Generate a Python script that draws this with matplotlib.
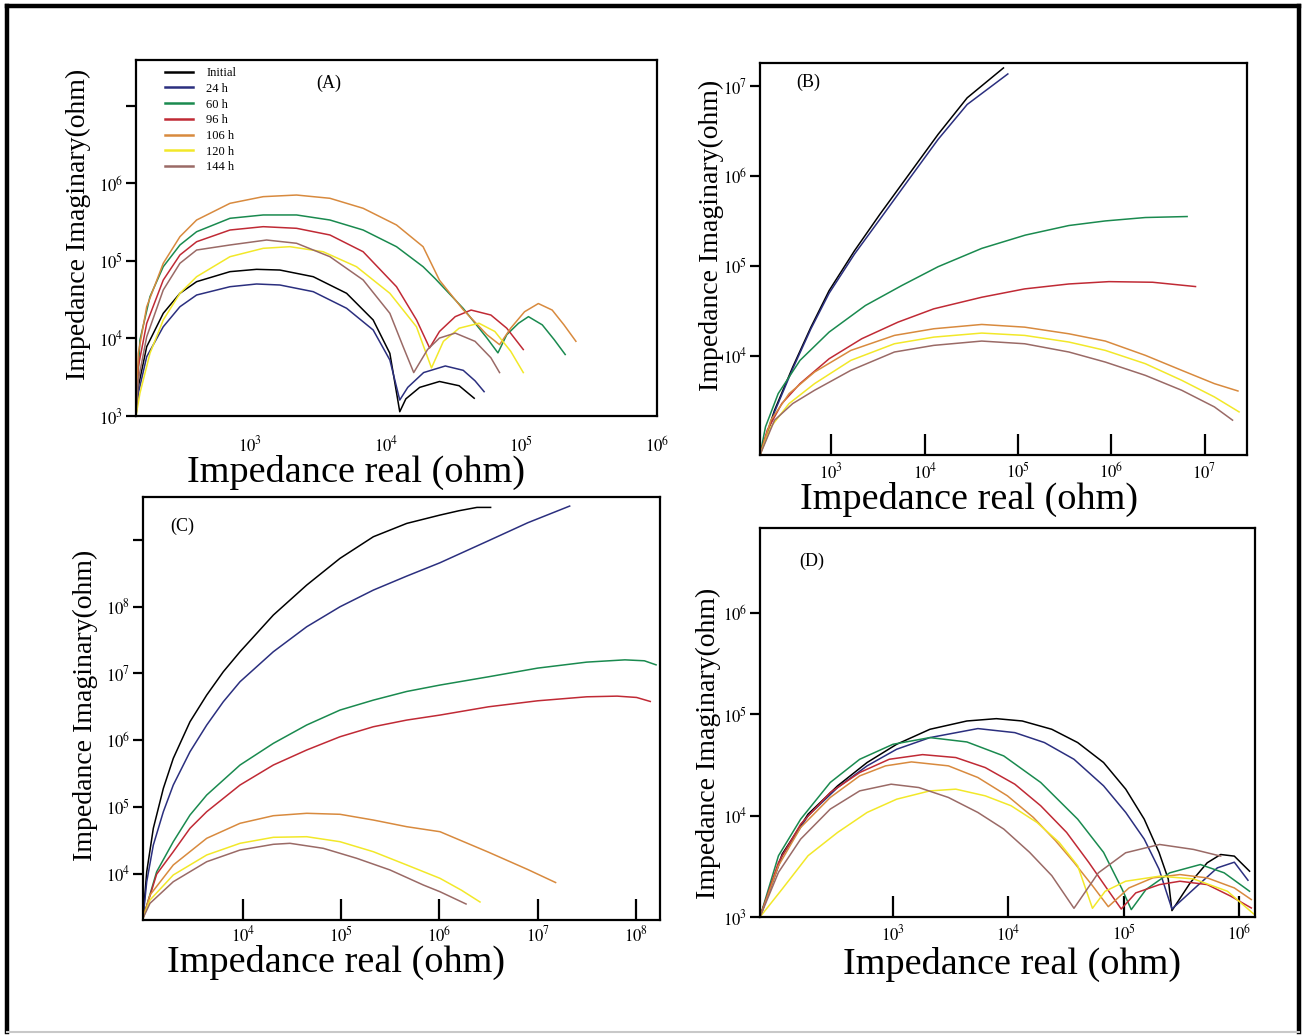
import matplotlib
matplotlib.use("Agg")
import matplotlib.pyplot as plt
from matplotlib.lines import Line2D

plt.rcParams["font.family"] = ["Liberation Serif", "DejaVu Serif"]
plt.rcParams["mathtext.fontset"] = "stix"

W, H = 1306, 1036

LABELS = ["Initial", "24 h", "60 h", "96 h", "106 h", "120 h", "144 h"]
COLORS = ["#000000", "#2b2f7f", "#1a8a4f", "#c02a35", "#d88a3e", "#f2e829", "#9a6a66"]

# all values are log10(ohm), one list per series in LABELS order

# panel A
A_X = [
    [2.158, 2.175, 2.237, 2.359, 2.482, 2.605, 2.851, 3.047, 3.219, 3.465, 3.711, 3.907, 4.03, 4.103,
     4.148, 4.25, 4.396, 4.541, 4.652],
    [2.158, 2.175, 2.237, 2.359, 2.482, 2.605, 2.851, 3.047, 3.219, 3.465, 3.711, 3.907, 4.03, 4.103,
     4.162, 4.279, 4.439, 4.571, 4.658, 4.725],
    [2.158, 2.187, 2.261, 2.359, 2.482, 2.605, 2.851, 3.096, 3.342, 3.588, 3.833, 4.079, 4.275, 4.366,
     4.571, 4.746, 4.827, 4.892, 4.979, 5.052, 5.154, 5.242, 5.323],
    [2.158, 2.175, 2.237, 2.359, 2.482, 2.605, 2.851, 3.096, 3.342, 3.588, 3.833, 4.079, 4.227, 4.323,
     4.396, 4.512, 4.629, 4.775, 4.892, 5.014],
    [2.158, 2.175, 2.237, 2.359, 2.482, 2.605, 2.851, 3.096, 3.342, 3.588, 3.833, 4.079, 4.275, 4.396,
     4.571, 4.746, 4.839, 4.921, 5.023, 5.125, 5.227, 5.314, 5.402],
    [2.158, 2.187, 2.261, 2.359, 2.482, 2.605, 2.851, 3.096, 3.293, 3.538, 3.784, 4.03, 4.226, 4.337,
     4.425, 4.541, 4.687, 4.804, 4.921, 5.014],
    [2.158, 2.175, 2.237, 2.359, 2.482, 2.605, 2.851, 3.121, 3.342, 3.588, 3.833, 4.03, 4.128, 4.206,
     4.308, 4.396, 4.512, 4.658, 4.775, 4.839],
]
A_Y = [
    [3.0, 3.378, 3.894, 4.324, 4.582, 4.732, 4.861, 4.891, 4.882, 4.796, 4.582, 4.238, 3.808, 3.055,
     3.221, 3.369, 3.445, 3.39, 3.229],
    [3.0, 3.293, 3.765, 4.151, 4.409, 4.56, 4.667, 4.702, 4.689, 4.603, 4.389, 4.109, 3.722, 3.206,
     3.369, 3.56, 3.645, 3.589, 3.454, 3.314],
    [3.0, 3.98, 4.538, 4.925, 5.205, 5.376, 5.549, 5.592, 5.592, 5.527, 5.398, 5.183, 4.925, 4.768,
     4.387, 4.005, 3.814, 4.048, 4.196, 4.281, 4.175, 3.984, 3.793],
    [3.0, 3.636, 4.195, 4.753, 5.076, 5.247, 5.398, 5.441, 5.42, 5.334, 5.118, 4.667, 4.238, 3.878,
     4.09, 4.281, 4.366, 4.302, 4.132, 3.857],
    [3.0, 3.808, 4.409, 4.969, 5.312, 5.527, 5.742, 5.828, 5.849, 5.807, 5.678, 5.463, 5.183, 4.75,
     4.37, 4.048, 3.92, 4.132, 4.344, 4.45, 4.366, 4.175, 3.963],
    [3.0, 3.293, 3.808, 4.238, 4.582, 4.796, 5.054, 5.162, 5.183, 5.118, 4.925, 4.582, 4.151, 3.62,
     3.963, 4.132, 4.196, 4.09, 3.835, 3.56],
    [3.0, 3.464, 4.022, 4.625, 4.969, 5.14, 5.205, 5.269, 5.227, 5.054, 4.754, 4.324, 3.894, 3.56,
     3.857, 4.005, 4.069, 3.963, 3.751, 3.56],
]

# panel B
B_X = [
    [2.234, 2.39, 2.585, 2.78, 2.975, 3.247, 3.52, 3.831, 4.143, 4.455, 4.844],
    [2.234, 2.39, 2.585, 2.78, 2.975, 3.247, 3.52, 3.831, 4.143, 4.455, 4.891],
    [2.234, 2.293, 2.429, 2.663, 2.975, 3.364, 3.753, 4.143, 4.611, 5.078, 5.546, 5.936, 6.365, 6.813],
    [2.234, 2.312, 2.468, 2.663, 2.975, 3.325, 3.714, 4.097, 4.611, 5.071, 5.546, 5.975, 6.443, 6.903],
    [2.234, 2.351, 2.546, 2.819, 3.208, 3.675, 4.097, 4.611, 5.071, 5.546, 5.936, 6.365, 6.755, 7.105, 7.358],
    [2.234, 2.351, 2.546, 2.819, 3.208, 3.675, 4.097, 4.611, 5.071, 5.546, 5.936, 6.365, 6.755, 7.105, 7.37],
    [2.234, 2.39, 2.585, 2.819, 3.208, 3.675, 4.097, 4.611, 5.071, 5.546, 5.936, 6.365, 6.755, 7.105, 7.3],
]
B_Y = [
    [2.893, 3.392, 3.873, 4.317, 4.724, 5.168, 5.575, 6.019, 6.464, 6.871, 7.204],
    [2.893, 3.373, 3.854, 4.299, 4.695, 5.131, 5.519, 5.964, 6.408, 6.797, 7.137],
    [2.893, 3.207, 3.577, 3.947, 4.262, 4.558, 4.78, 4.99, 5.194, 5.342, 5.449, 5.5, 5.538, 5.549],
    [2.893, 3.17, 3.466, 3.688, 3.965, 4.188, 4.373, 4.521, 4.65, 4.743, 4.798, 4.824, 4.817, 4.769],
    [2.893, 3.281, 3.577, 3.817, 4.058, 4.225, 4.299, 4.347, 4.317, 4.243, 4.162, 4.003, 3.836, 3.688, 3.606],
    [2.893, 3.207, 3.466, 3.688, 3.947, 4.132, 4.206, 4.251, 4.225, 4.151, 4.058, 3.91, 3.725, 3.54, 3.373],
    [2.893, 3.281, 3.466, 3.614, 3.836, 4.04, 4.114, 4.162, 4.132, 4.04, 3.928, 3.78, 3.614, 3.429, 3.281],
]

# panel C
C_X = [
    [2.986, 3.024, 3.091, 3.193, 3.294, 3.464, 3.634, 3.803, 3.973, 4.312, 4.651, 4.99, 5.329, 5.669,
     6.007, 6.2, 6.383, 6.522],
    [2.986, 3.024, 3.091, 3.193, 3.294, 3.464, 3.634, 3.803, 3.973, 4.312, 4.651, 4.99, 5.329, 5.669,
     6.007, 6.5, 6.9, 7.326],
    [2.986, 3.125, 3.294, 3.464, 3.634, 3.973, 4.312, 4.651, 4.99, 5.329, 5.669, 6.007, 6.5, 7.0, 7.5,
     7.888, 8.086, 8.205],
    [2.986, 3.125, 3.294, 3.464, 3.634, 3.973, 4.312, 4.651, 4.99, 5.329, 5.669, 6.007, 6.5, 7.0, 7.5,
     7.809, 8.007, 8.146],
    [2.986, 3.057, 3.294, 3.634, 3.973, 4.312, 4.651, 4.99, 5.329, 5.669, 6.007, 6.5, 6.9, 7.183],
    [2.986, 3.057, 3.294, 3.634, 3.973, 4.312, 4.651, 4.99, 5.329, 5.669, 6.007, 6.225, 6.414],
    [2.986, 3.057, 3.294, 3.634, 3.973, 4.312, 4.481, 4.82, 5.16, 5.499, 5.837, 6.007, 6.272],
]
C_Y = [
    [3.33, 4.027, 4.678, 5.277, 5.727, 6.276, 6.676, 7.026, 7.326, 7.876, 8.325, 8.726, 9.05, 9.25,
     9.375, 9.44, 9.49, 9.49],
    [3.33, 3.877, 4.427, 4.927, 5.327, 5.826, 6.226, 6.576, 6.876, 7.326, 7.7, 8.0, 8.25, 8.46,
     8.66, 8.99, 9.26, 9.51],
    [3.33, 4.027, 4.477, 4.877, 5.177, 5.627, 5.952, 6.227, 6.451, 6.6, 6.73, 6.826, 6.95, 7.08, 7.17,
     7.204, 7.19, 7.129],
    [3.33, 3.99, 4.327, 4.678, 4.927, 5.327, 5.627, 5.852, 6.051, 6.201, 6.301, 6.376, 6.5, 6.59, 6.65,
     6.66, 6.64, 6.58],
    [3.33, 3.678, 4.128, 4.528, 4.753, 4.867, 4.903, 4.888, 4.802, 4.702, 4.627, 4.32, 4.06, 3.865],
    [3.33, 3.603, 3.978, 4.278, 4.453, 4.543, 4.552, 4.477, 4.327, 4.128, 3.928, 3.75, 3.573],
    [3.33, 3.553, 3.877, 4.177, 4.352, 4.438, 4.453, 4.378, 4.228, 4.053, 3.828, 3.727, 3.543],
]

# panel D
D_X = [
    [1.85, 2.042, 2.266, 2.522, 2.777, 3.033, 3.321, 3.641, 3.896, 4.12, 4.376, 4.6, 4.824, 5.016, 5.176,
     5.304, 5.384, 5.416, 5.574, 5.721, 5.838, 5.956, 6.088],
    [1.85, 2.042, 2.266, 2.522, 2.777, 3.033, 3.321, 3.736, 4.056, 4.312, 4.568, 4.824, 5.016, 5.176,
     5.304, 5.416, 5.632, 5.809, 5.956, 6.074],
    [1.85, 2.01, 2.202, 2.458, 2.713, 3.001, 3.321, 3.641, 3.96, 4.28, 4.6, 4.824, 4.984, 5.064,
     5.191, 5.397, 5.662, 5.868, 6.088],
    [1.85, 2.01, 2.202, 2.458, 2.713, 2.969, 3.257, 3.545, 3.8, 4.056, 4.28, 4.504, 4.696, 4.856, 4.977,
     5.103, 5.309, 5.485, 5.721, 5.926, 6.103],
    [1.85, 2.01, 2.202, 2.458, 2.713, 2.937, 3.161, 3.481, 3.736, 3.992, 4.216, 4.408, 4.568, 4.728, 4.865,
     5.044, 5.25, 5.485, 5.721, 5.956, 6.103],
    [1.85, 2.042, 2.266, 2.522, 2.777, 3.033, 3.321, 3.545, 3.8, 4.024, 4.248, 4.44, 4.6, 4.728,
     4.838, 5.015, 5.309, 5.603, 5.897, 6.147],
    [1.85, 2.01, 2.202, 2.458, 2.713, 2.985, 3.225, 3.481, 3.736, 3.96, 4.184, 4.376, 4.568,
     4.779, 5.015, 5.309, 5.603, 5.838],
]
D_Y = [
    [3.0, 3.621, 4.015, 4.295, 4.525, 4.705, 4.853, 4.935, 4.958, 4.935, 4.853, 4.722, 4.525, 4.262, 3.966,
     3.638, 3.375, 3.063, 3.337, 3.535, 3.617, 3.601, 3.452],
    [3.0, 3.605, 3.999, 4.278, 4.492, 4.656, 4.771, 4.86, 4.82, 4.722, 4.557, 4.295, 4.032, 3.769,
     3.473, 3.079, 3.304, 3.485, 3.541, 3.363],
    [3.0, 3.605, 3.966, 4.328, 4.557, 4.705, 4.771, 4.728, 4.59, 4.328, 3.966, 3.638, 3.276, 3.073,
     3.271, 3.436, 3.518, 3.436, 3.254],
    [3.0, 3.539, 3.917, 4.229, 4.426, 4.557, 4.603, 4.574, 4.475, 4.311, 4.098, 3.835, 3.539, 3.276, 3.079,
     3.238, 3.32, 3.353, 3.32, 3.205, 3.089],
    [3.0, 3.506, 3.884, 4.18, 4.393, 4.492, 4.531, 4.492, 4.377, 4.196, 3.983, 3.753, 3.539, 3.309, 3.102,
     3.287, 3.386, 3.419, 3.386, 3.287, 3.172],
    [3.0, 3.276, 3.605, 3.835, 4.032, 4.163, 4.245, 4.262, 4.196, 4.098, 3.933, 3.736, 3.506, 3.086,
     3.254, 3.353, 3.403, 3.376, 3.254, 3.007],
    [3.0, 3.441, 3.769, 4.065, 4.245, 4.311, 4.278, 4.18, 4.032, 3.868, 3.638, 3.408, 3.086,
     3.436, 3.634, 3.716, 3.667, 3.601],
]

fig = plt.figure(figsize=(W / 100, H / 100), dpi=100)


def px_axes(l, t, r, b):
    return fig.add_axes([l / W, 1 - b / H, (r - l) / W, (b - t) / H])


def decade_labels(exps, shown):
    return [r"$10^{%d}$" % e if e in shown else "" for e in exps]


def style(ax, xlim, ylim, xt, xshow, yt, yshow, xin, xpad):
    ax.set_xlim(*xlim)
    ax.set_ylim(*ylim)
    ax.set_xticks(xt)
    ax.set_xticklabels(decade_labels(xt, xshow))
    ax.set_yticks(yt)
    ax.set_yticklabels(decade_labels(yt, yshow))
    for s in ax.spines.values():
        s.set_linewidth(1.6)
    if xin:
        ax.tick_params(axis="x", direction="in", length=15, width=1.6, pad=xpad, labelsize=12)
    else:
        ax.tick_params(axis="x", length=0, pad=xpad, labelsize=12)
    ax.tick_params(axis="y", direction="out", length=7, width=1.6, pad=2, labelsize=12)


def draw(ax, xs, ys):
    for x, y, c, lab in zip(xs, ys, COLORS, LABELS):
        ax.plot(x, y, color=c, lw=1.1, label=lab, solid_joinstyle="round")


def fig_text(x, y, s, **kw):
    fig.text(x / W, 1 - y / H, s, ha="center", va="center", **kw)


# (A)
axA = px_axes(136, 60, 657, 416)
draw(axA, A_X, A_Y)
style(axA, (2.158, 6.0), (3.0, 7.59), [3, 4, 5, 6], [3, 4, 5, 6], [3, 4, 5, 6, 7], [3, 4, 5, 6],
      False, 14)
axA.text(0.37, 0.935, "(A)", transform=axA.transAxes, ha="center", va="center", fontsize=13)
leg = axA.legend(loc="upper left", bbox_to_anchor=(165 / W, 1 - 67 / H), bbox_transform=fig.transFigure,
                 frameon=False, fontsize=9, handlelength=2.2, handletextpad=1.1, labelspacing=0.3,
                 borderpad=0, borderaxespad=0)
for h in leg.legend_handles:
    h.set_linewidth(1.8)

# (B)
axB = px_axes(760, 63, 1247, 455)
draw(axB, B_X, B_Y)
style(axB, (2.234, 7.455), (2.893, 7.259), [3, 4, 5, 6, 7], [3, 4, 5, 6, 7], [4, 5, 6, 7], [4, 5, 6, 7],
      True, 5)
axB.text(0.1, 0.95, "(B)", transform=axB.transAxes, ha="center", va="center", fontsize=13)

# (C)
axC = px_axes(143, 497, 660, 920)
draw(axC, C_X, C_Y)
style(axC, (2.986, 8.245), (3.303, 9.646), [4, 5, 6, 7, 8], [4, 5, 6, 7, 8], [4, 5, 6, 7, 8, 9],
      [4, 5, 6, 7, 8], True, 4)
axC.text(0.075, 0.93, "(C)", transform=axC.transAxes, ha="center", va="center", fontsize=13)

# (D)
axD = px_axes(760, 528, 1255, 917)
draw(axD, D_X, D_Y)
style(axD, (1.85, 6.135), (3.0, 6.84), [3, 4, 5, 6], [3, 4, 5, 6], [3, 4, 5, 6], [3, 4, 5, 6], True, 5)
axD.text(0.105, 0.915, "(D)", transform=axD.transAxes, ha="center", va="center", fontsize=13)

# axis titles
xlab = "Impedance real (ohm)"
ylab = "Impedance Imaginary(ohm)"
for x, y in [(356, 472), (969, 499), (336, 962), (1012, 964)]:
    fig_text(x, y, xlab, fontsize=27.5)
for x, y in [(78, 224), (711, 235), (85, 705), (708, 743)]:
    fig_text(x, y, ylab, fontsize=20, rotation=90)

# outer frame
fig.add_artist(Line2D([7 / W, 7 / W], [1 - 6 / H, 1 - 1032 / H], color="black", lw=3.2))
fig.add_artist(Line2D([7 / W, 1299 / W], [1 - 6 / H, 1 - 6 / H], color="black", lw=3.2))
fig.add_artist(Line2D([1299 / W, 1299 / W], [1 - 6 / H, 1 - 1032 / H], color="black", lw=3.2))
fig.add_artist(Line2D([7 / W, 1299 / W], [1 - 1032 / H, 1 - 1032 / H], color="#c8c8c8", lw=1.5))

fig.savefig("out.png", dpi=100)
